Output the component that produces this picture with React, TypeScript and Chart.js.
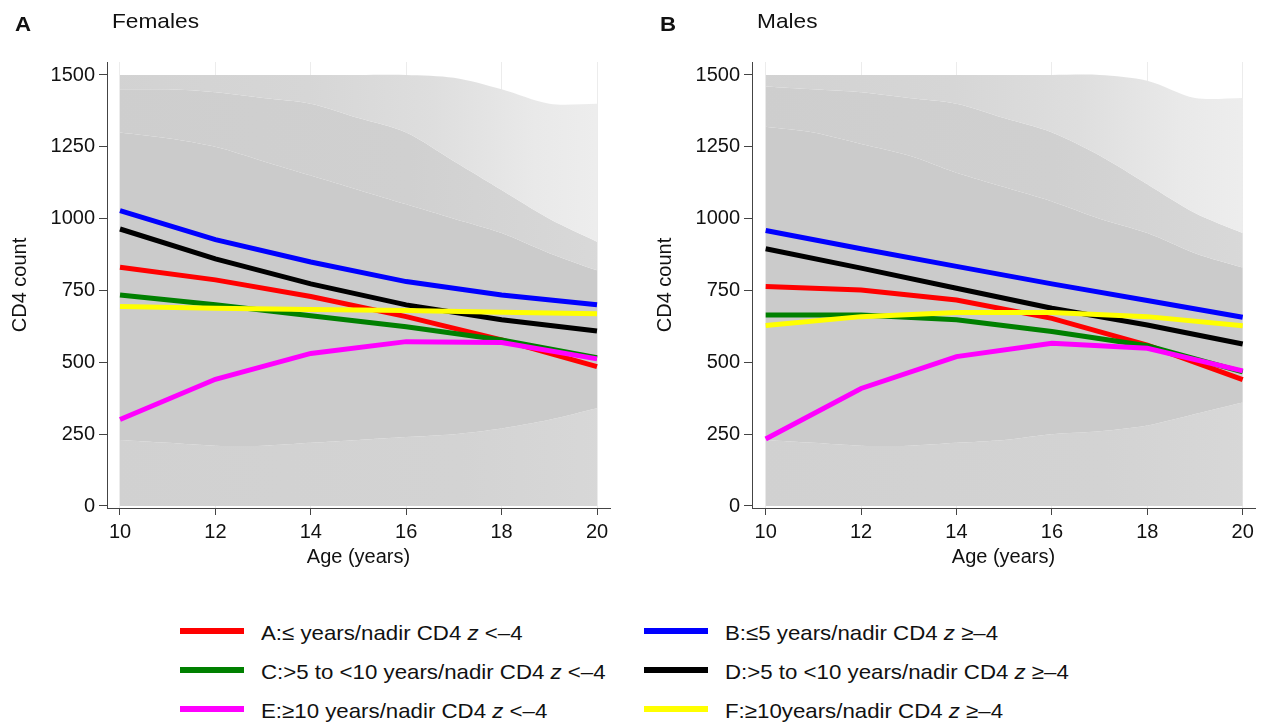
import React, { useEffect, useRef } from "react";
import { Chart, registerables } from "chart.js";
Chart.register(...registerables);

const FONT = '"Liberation Sans", Arial, Helvetica, sans-serif';

// x positions of the fitted trajectories (age in years)
const ages = [10, 12, 14, 16, 18, 20];
const xTicks = [10, 12, 14, 16, 18, 20];
const yTicks = [0, 250, 500, 750, 1000, 1250, 1500];

// Panel A — Females
const femaleA = [831, 787, 729, 659, 578, 485];
const femaleB = [1028, 927, 849, 781, 734, 700];
const femaleC = [734, 700, 662, 624, 578, 516];
const femaleD = [964, 860, 773, 700, 648, 609];
const femaleE = [301, 441, 531, 572, 569, 512];
const femaleF = [694, 688, 684, 680, 674, 669];

// Panel B — Males
const maleA = [764, 752, 717, 653, 560, 440];
const maleB = [959, 895, 834, 773, 715, 657];
const maleC = [665, 665, 648, 607, 558, 467];
const maleD = [895, 828, 758, 688, 630, 564];
const maleE = [233, 409, 520, 566, 549, 470];
const maleF = [628, 659, 673, 673, 659, 627];

const cloudAges = [10, 11, 12, 13, 14, 15, 16, 17, 18, 19, 20];
const femaleSparseTop = [1500, 1500, 1500, 1500, 1500, 1500, 1500, 1490, 1450, 1400, 1400];
const femaleMidTop = [1450, 1450, 1440, 1420, 1400, 1350, 1300, 1200, 1100, 1000, 920];
const femaleCoreTop = [1300, 1280, 1250, 1200, 1150, 1100, 1050, 1000, 950, 880, 820];
const femaleCoreBottom = [230, 220, 210, 210, 220, 230, 240, 250, 270, 300, 340];

const maleSparseTop = [1500, 1500, 1500, 1500, 1500, 1500, 1500, 1500, 1480, 1420, 1420];
const maleMidTop = [1460, 1450, 1440, 1420, 1400, 1350, 1300, 1220, 1120, 1020, 950];
const maleCoreTop = [1320, 1300, 1260, 1220, 1160, 1110, 1060, 1000, 950, 880, 830];
const maleCoreBottom = [230, 220, 210, 210, 220, 230, 250, 260, 280, 320, 360];

const seriesLabels = [
  "A:≤ years/nadir CD4 z <–4",
  "B:≤5 years/nadir CD4 z ≥–4",
  "C:>5 to <10 years/nadir CD4 z <–4",
  "D:>5 to <10 years/nadir CD4 z ≥–4",
  "E:≥10 years/nadir CD4 z <–4",
  "F:≥10years/nadir CD4 z ≥–4",
];
const seriesColors = ["#ff0000", "#0000ff", "#008000", "#000000", "#ff00ff", "#ffff00"];
const seriesOrder = [6, 5, 4, 3, 2, 1];

const pts = (xs: number[], ys: number[]) => xs.map((x, i) => ({ x, y: ys[i] }));

function hGradient(stops: [number, string][], fallback: string) {
  return (ctx: any) => {
    const chart = ctx.chart;
    const area = chart && chart.chartArea;
    if (!area) return fallback;
    const g = chart.ctx.createLinearGradient(area.left, 0, area.right, 0);
    stops.forEach(([o, c]) => g.addColorStop(o, c));
    return g;
  };
}

function buildConfig(series: number[][], cloud: number[][], xmin: number, xmax: number, padRight: number): any {
  const [sparseTop, midTop, coreTop, coreBottom] = cloud;
  const cloudBase = { borderWidth: 0, pointRadius: 0, order: 10, tension: 0.3 };
  const datasets: any[] = [
    {
      ...cloudBase,
      label: "c1",
      data: pts(cloudAges, sparseTop),
      fill: "+1",
      backgroundColor: hGradient(
        [
          [0, "#d2d2d2"],
          [0.4, "#d6d6d6"],
          [0.65, "#dedede"],
          [0.85, "#e9e9e9"],
          [1, "#eeeeee"],
        ],
        "#dddddd"
      ),
    },
    {
      ...cloudBase,
      label: "c2",
      data: pts(cloudAges, midTop),
      fill: "+1",
      backgroundColor: hGradient(
        [
          [0, "#cecece"],
          [0.6, "#d0d0d0"],
          [1, "#d9d9d9"],
        ],
        "#d0d0d0"
      ),
    },
    { ...cloudBase, label: "c3", data: pts(cloudAges, coreTop), fill: "+1", backgroundColor: "#cbcbcb" },
    {
      ...cloudBase,
      label: "c4",
      data: pts(cloudAges, coreBottom),
      fill: "origin",
      backgroundColor: hGradient(
        [
          [0, "#d1d1d1"],
          [0.7, "#d3d3d3"],
          [1, "#d8d8d8"],
        ],
        "#d3d3d3"
      ),
    },
  ];
  series.forEach((s, i) => {
    datasets.push({
      label: seriesLabels[i],
      data: pts(ages, s),
      borderColor: seriesColors[i],
      borderWidth: 5,
      pointRadius: 0,
      fill: false,
      tension: 0,
      order: seriesOrder[i],
      borderCapStyle: "butt",
    });
  });
  return {
    type: "line",
    data: { datasets },
    options: {
      responsive: false,
      animation: false,
      events: [],
      layout: { padding: { top: 62, right: padRight, bottom: 0, left: 0 } },
      plugins: { legend: { display: false }, tooltip: { enabled: false }, title: { display: false } },
      scales: {
        x: {
          type: "linear",
          min: xmin,
          max: xmax,
          afterBuildTicks: (s: any) => {
            s.ticks = xTicks.map((v) => ({ value: v }));
          },
          afterFit: (s: any) => {
            s.height = 92;
          },
          ticks: {
            font: { size: 20, family: FONT },
            color: "#111",
            padding: 5,
            maxRotation: 0,
            autoSkip: false,
            callback: (v: any) => String(v),
          },
          grid: { color: "#ececec", lineWidth: 1, tickColor: "#444", tickLength: 7 },
          border: { color: "#444", width: 1 },
          title: {
            display: true,
            text: "Age (years)",
            font: { size: 20, family: FONT },
            color: "#111",
            padding: { top: 0, bottom: 31 },
          },
        },
        y: {
          type: "linear",
          min: -7,
          max: 1545.2,
          afterBuildTicks: (s: any) => {
            s.ticks = yTicks.map((v) => ({ value: v }));
          },
          afterFit: (s: any) => {
            s.width = 107;
          },
          ticks: {
            font: { size: 20, family: FONT },
            color: "#111",
            padding: 4,
            callback: (v: any) => String(v),
          },
          grid: { drawOnChartArea: false, tickColor: "#444", tickLength: 8 },
          border: { color: "#444", width: 1 },
          title: {
            display: true,
            text: "CD4 count",
            font: { size: 20, family: FONT },
            color: "#111",
            padding: { top: 8, bottom: 0 },
          },
        },
      },
    },
  };
}

function Panel(props: { series: number[][]; cloud: number[][]; xmin: number; xmax: number; padRight: number; left: number; width: number }) {
  const ref = useRef<HTMLCanvasElement | null>(null);
  useEffect(() => {
    if (!ref.current) return;
    const chart = new Chart(ref.current, buildConfig(props.series, props.cloud, props.xmin, props.xmax, props.padRight));
    return () => chart.destroy();
  }, []);
  return (
    <canvas
      ref={ref}
      width={props.width}
      height={600}
      style={{ position: "absolute", left: props.left, top: 0, width: props.width, height: 600 }}
    />
  );
}

function LegendLabel({ text }: { text: string }) {
  const idx = text.lastIndexOf(" z ");
  return (
    <span>
      {text.slice(0, idx + 1)}
      <i>z</i>
      {text.slice(idx + 2)}
    </span>
  );
}

export default function App() {
  Chart.defaults.font.family = FONT;
  const legendRows = [631, 670, 709];
  const legendCols = [
    { lineX: 180, textX: 261 },
    { lineX: 644, textX: 725 },
  ];
  const stretch = { transform: "scaleX(1.06)", transformOrigin: "left center" };
  return (
    <div
      style={{
        position: "absolute",
        left: 0,
        top: 0,
        width: 1263,
        height: 722,
        overflow: "hidden",
        background: "#fff",
        fontFamily: FONT,
        color: "#111",
      }}
    >
      <Panel
        series={[femaleA, femaleB, femaleC, femaleD, femaleE, femaleF]}
        cloud={[femaleSparseTop, femaleMidTop, femaleCoreTop, femaleCoreBottom]}
        xmin={9.7275}
        xmax={20.2725}
        padRight={30}
        left={0}
        width={640}
      />
      <Panel
        series={[maleA, maleB, maleC, maleD, maleE, maleF]}
        cloud={[maleSparseTop, maleMidTop, maleCoreTop, maleCoreBottom]}
        xmin={9.713}
        xmax={20.258}
        padRight={8}
        left={645}
        width={618}
      />
      <div style={{ position: "absolute", left: 15, top: 13, fontSize: 21, lineHeight: "21px", fontWeight: "bold", ...stretch }}>A</div>
      <div style={{ position: "absolute", left: 112, top: 10, fontSize: 21, lineHeight: "21px", ...stretch, transform: "scaleX(1.08)" }}>Females</div>
      <div style={{ position: "absolute", left: 660, top: 13, fontSize: 21, lineHeight: "21px", fontWeight: "bold", ...stretch }}>B</div>
      <div style={{ position: "absolute", left: 757, top: 10, fontSize: 21, lineHeight: "21px", ...stretch, transform: "scaleX(1.08)" }}>Males</div>
      {seriesLabels.map((lab, i) => {
        const col = legendCols[i % 2];
        const rowY = legendRows[Math.floor(i / 2)];
        return (
          <React.Fragment key={lab}>
            <div
              style={{
                position: "absolute",
                left: col.lineX,
                top: rowY - 3,
                width: 64,
                height: 6,
                background: seriesColors[i],
              }}
            />
            <div
              style={{
                position: "absolute",
                left: col.textX,
                top: rowY - 9,
                fontSize: 21,
                lineHeight: "21px",
                whiteSpace: "nowrap",
                ...stretch,
              }}
            >
              <LegendLabel text={lab} />
            </div>
          </React.Fragment>
        );
      })}
    </div>
  );
}
